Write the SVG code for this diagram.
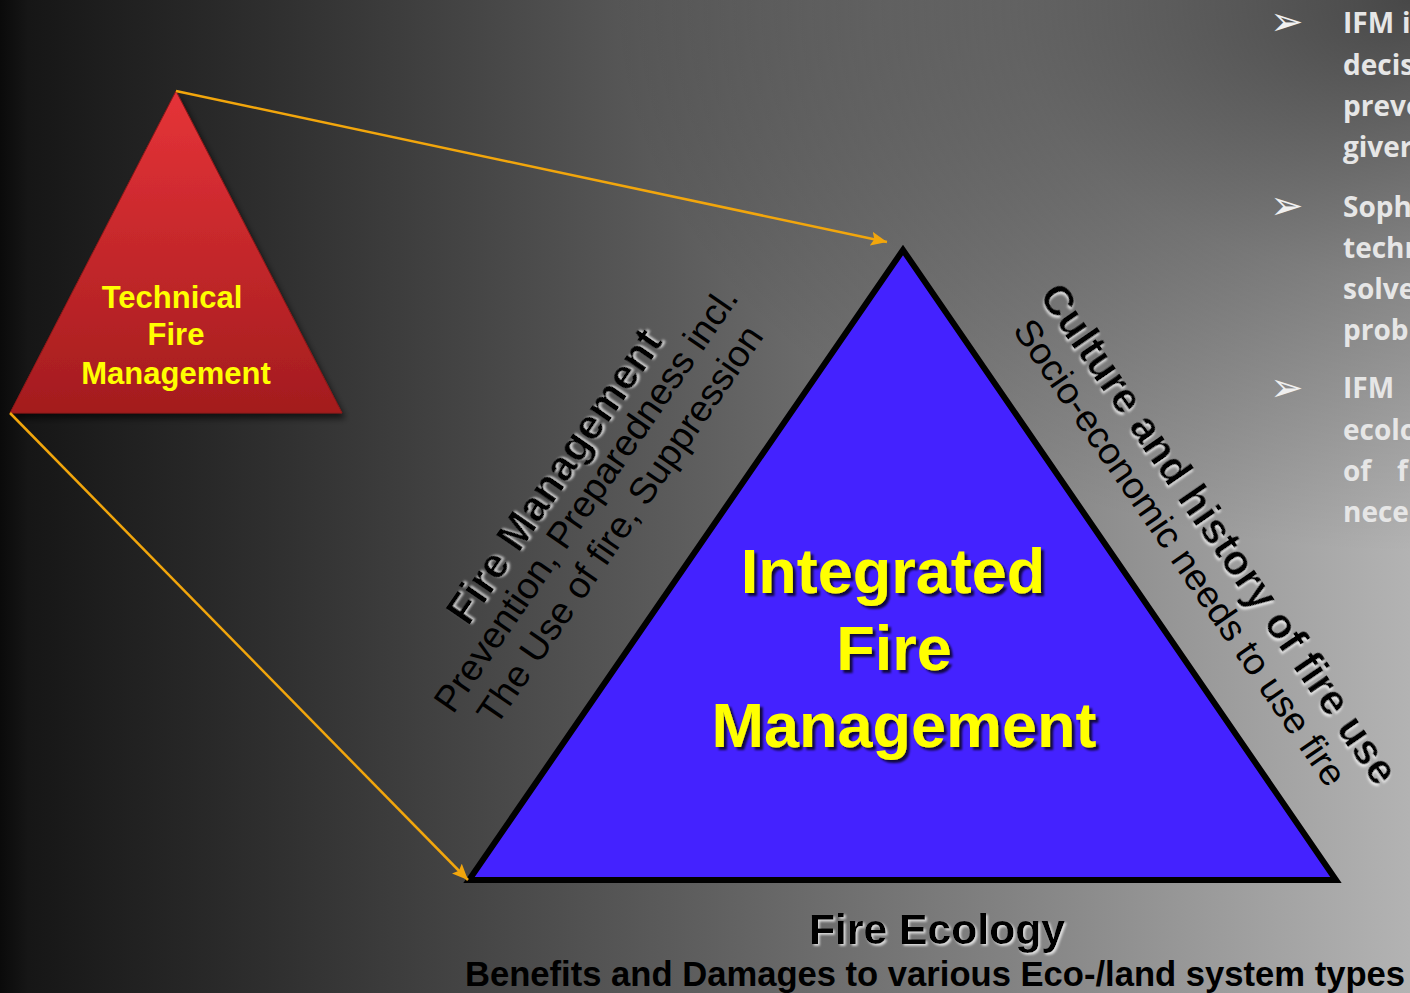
<svg xmlns="http://www.w3.org/2000/svg" width="1410" height="993" viewBox="0 0 1410 993">
<defs>
<linearGradient id="bgx" gradientUnits="userSpaceOnUse" x1="0" y1="0" x2="1410" y2="0">
<stop offset="0" stop-color="#0a0a0a"/>
<stop offset="0.02" stop-color="#161616"/>
<stop offset="0.2" stop-color="#303030"/>
<stop offset="0.5" stop-color="#5f5f5f"/>
<stop offset="0.72" stop-color="#838383"/>
<stop offset="1" stop-color="#b3b3b3"/>
</linearGradient>
<radialGradient id="tr" gradientUnits="userSpaceOnUse" cx="1410" cy="0" r="800" gradientTransform="translate(1410,0) scale(1,0.69) translate(-1410,0)">
<stop offset="0" stop-color="#000" stop-opacity="0.6"/>
<stop offset="0.5" stop-color="#000" stop-opacity="0.25"/>
<stop offset="1" stop-color="#000" stop-opacity="0"/>
</radialGradient>
<linearGradient id="red" x1="0" y1="0" x2="0" y2="1">
<stop offset="0" stop-color="#e63338"/>
<stop offset="1" stop-color="#a31c1e"/>
</linearGradient>
<filter id="ys" x="-10%" y="-20%" width="130%" height="150%">
<feDropShadow dx="3" dy="3" stdDeviation="1.2" flood-color="#000" flood-opacity="0.75"/>
</filter>
<filter id="ls" x="-10%" y="-20%" width="130%" height="150%">
<feDropShadow dx="1.8" dy="1.8" stdDeviation="0.8" flood-color="#ffffff" flood-opacity="0.75"/>
</filter>
<filter id="ts" x="-20%" y="-20%" width="140%" height="150%">
<feDropShadow dx="3" dy="5" stdDeviation="3" flood-color="#000" flood-opacity="0.6"/>
</filter>
<marker id="ah" markerUnits="userSpaceOnUse" markerWidth="18" markerHeight="14" refX="16" refY="7" orient="auto">
<path d="M0,0 L16,7 L0,14 L3,7 z" fill="#f2a60c"/>
</marker>
<style>
.y{font-family:"Liberation Sans",Arial,sans-serif;font-weight:bold;fill:#ffff00;text-anchor:middle}
.d{font-family:"Liberation Sans",Arial,sans-serif;fill:#000}
.b{font-family:"Open Sans",Lato,sans-serif;font-weight:bold;font-size:28px;fill:#e6e6e6}
.bul{font-family:"DejaVu Sans",sans-serif;font-size:40px;fill:#f0f0f0}
.conn{stroke:#f2a60c;stroke-width:2.5;fill:none}
</style>
</defs>
<rect x="0" y="0" width="1410" height="993" fill="url(#bgx)"/>
<rect x="0" y="0" width="1410" height="993" fill="url(#tr)"/>

<g id="technical-fire-management">
<polygon points="176,91 10,413 342,413" fill="url(#red)" stroke="#8e1818" stroke-width="1" filter="url(#ts)"/>
<text class="y" font-size="31" x="172" y="308">Technical</text>
<text class="y" font-size="31" x="176" y="345">Fire</text>
<text class="y" font-size="31" x="176" y="384">Management</text>
</g>

<g id="integrated-fire-management">
<polygon points="903,250 469,880 1336,880" fill="#4422ff" stroke="#000" stroke-width="6" stroke-linejoin="miter" stroke-miterlimit="10"/>
<text class="y" font-size="63" x="893" y="593" filter="url(#ys)">Integrated</text>
<text class="y" font-size="63" x="894" y="670" filter="url(#ys)">Fire</text>
<text class="y" font-size="63" x="904" y="747" filter="url(#ys)">Management</text>
</g>

<g id="connectors">
<line class="conn" x1="176" y1="91" x2="887" y2="242" marker-end="url(#ah)"/>
<line class="conn" x1="10" y1="413" x2="468" y2="880" stroke-width="2" marker-end="url(#ah)"/>
</g>

<g id="fire-management-side">
<text class="d" font-size="42" font-weight="bold" transform="translate(468,627) rotate(-55.5)" textLength="346" lengthAdjust="spacingAndGlyphs" filter="url(#ls)">Fire Management</text>
<text class="d" font-size="37" transform="translate(453,715) rotate(-55.5)" textLength="506" lengthAdjust="spacingAndGlyphs">Prevention, Preparedness incl.</text>
<text class="d" font-size="37" transform="translate(496,727) rotate(-55.5)" textLength="474" lengthAdjust="spacingAndGlyphs">The Use of fire, Suppression</text>
</g>

<g id="culture-side">
<text class="d" font-size="42" font-weight="bold" transform="translate(1038,296) rotate(55.5)" textLength="597" lengthAdjust="spacingAndGlyphs" filter="url(#ls)">Culture and history of fire use</text>
<text class="d" font-size="37" transform="translate(1012,330) rotate(55.5)" textLength="557" lengthAdjust="spacingAndGlyphs">Socio-economic needs to use fire</text>
</g>

<g id="fire-ecology">
<text class="d" font-size="42.5" font-weight="bold" x="937" y="944" text-anchor="middle" textLength="256" lengthAdjust="spacingAndGlyphs" filter="url(#ls)">Fire Ecology</text>
<text class="d" font-size="34.5" font-weight="bold" x="465" y="986" textLength="940" lengthAdjust="spacingAndGlyphs">Benefits and Damages to various Eco-/land system types</text>
</g>

<g id="bullets">
<text class="bul" x="1270" y="35">➢</text>
<text class="bul" x="1270" y="219">➢</text>
<text class="bul" x="1270" y="401">➢</text>
<text class="b" x="1343" y="33">IFM<tspan x="1402">i</tspan></text>
<text class="b" x="1343" y="75">decis</text>
<text class="b" x="1343" y="116">preve</text>
<text class="b" x="1343" y="157">giver</text>
<text class="b" x="1343" y="217">Soph</text>
<text class="b" x="1343" y="258">techr</text>
<text class="b" x="1343" y="299">solve</text>
<text class="b" x="1343" y="340">prob</text>
<text class="b" x="1343" y="398">IFM</text>
<text class="b" x="1343" y="440">ecolo</text>
<text class="b" x="1343" y="481">of<tspan x="1397">f</tspan></text>
<text class="b" x="1343" y="522">nece</text>
</g>
</svg>
